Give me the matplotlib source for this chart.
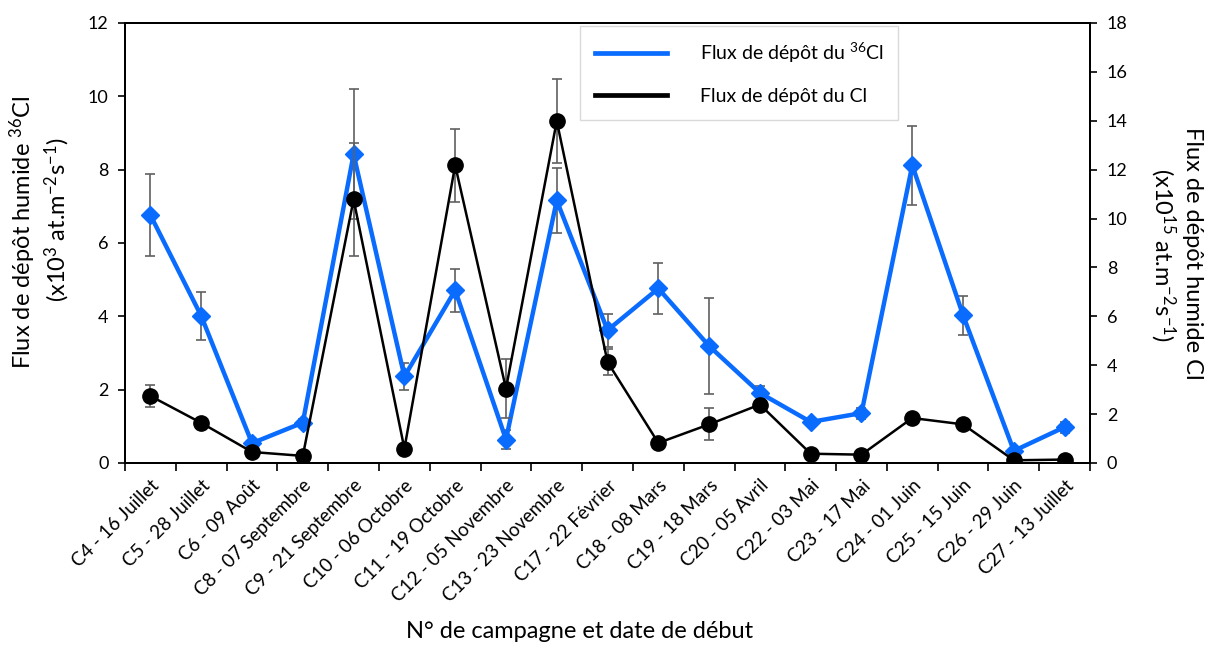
import matplotlib.pyplot as plt
from matplotlib.lines import Line2D

plt.rcParams['font.family'] = ['Lato', 'DejaVu Sans']
plt.rcParams['mathtext.default'] = 'regular'

campagnes = ["C4 - 16 Juillet", "C5 - 28 Juillet", "C6 - 09 Août", "C8 - 07 Septembre",
             "C9 - 21 Septembre", "C10 - 06 Octobre", "C11 - 19 Octobre", "C12 - 05 Novembre",
             "C13 - 23 Novembre", "C17 - 22 Février", "C18 - 08 Mars", "C19 - 18 Mars",
             "C20 - 05 Avril", "C22 - 03 Mai", "C23 - 17 Mai", "C24 - 01 Juin",
             "C25 - 15 Juin", "C26 - 29 Juin", "C27 - 13 Juillet"]

# flux 36Cl (x10^3 at.m-2.s-1), axe de gauche
flux_36cl = [6.76, 4.01, 0.54, 1.10, 8.42, 2.36, 4.71, 0.64, 7.16, 3.62,
             4.76, 3.19, 1.91, 1.12, 1.36, 8.12, 4.03, 0.33, 0.98]
err_36cl = [1.12, 0.65, 0.08, 0.10, 1.77, 0.38, 0.58, 0.25, 0.89, 0.45,
            0.69, 1.30, 0.20, 0.08, 0.15, 1.08, 0.53, 0.05, 0.15]

# flux Cl (x10^15 at.m-2.s-1), axe de droite
flux_cl = [2.74, 1.64, 0.45, 0.29, 10.78, 0.59, 12.18, 3.04, 13.99, 4.13,
           0.82, 1.58, 2.39, 0.38, 0.34, 1.84, 1.58, 0.11, 0.14]
err_cl = [0.45, 0.15, 0.05, 0.05, 2.30, 0.10, 1.50, 1.20, 1.72, 0.52,
          0.10, 0.65, 0.20, 0.05, 0.05, 0.15, 0.15, 0.03, 0.03]

bleu = '#0A6CFF'
gris = '#606060'

x = list(range(len(campagnes)))

fig = plt.figure(figsize=(12.07, 6.46), dpi=100)
ax = fig.add_axes([0.1036, 0.2833, 0.7995, 0.6811])
ax2 = ax.twinx()

ax.errorbar(x, flux_36cl, yerr=err_36cl, fmt='none', ecolor=gris, elinewidth=1.2,
            capsize=3.5, capthick=1.2, zorder=2)
ax.plot(x, flux_36cl, color=bleu, lw=3.2, marker='D', ms=9, zorder=3)

ax2.errorbar(x, flux_cl, yerr=err_cl, fmt='none', ecolor=gris, elinewidth=1.2,
             capsize=3.5, capthick=1.2, zorder=2)
ax2.plot(x, flux_cl, color='black', lw=1.8, marker='o', ms=11, zorder=3)

ax.set_xlim(-0.5, len(campagnes) - 0.5)
ax.set_ylim(0, 12)
ax2.set_ylim(0, 18)
ax.set_yticks(range(0, 13, 2))
ax2.set_yticks(range(0, 19, 2))

ax.set_xticks(x)
ax.set_xticklabels(campagnes, rotation=45, ha='right', rotation_mode='anchor', fontsize=13.5)
ax.set_xticks([i - 0.5 for i in range(len(campagnes) + 1)], minor=True)
ax.tick_params(axis='x', which='major', length=0, pad=10)
ax.tick_params(axis='x', which='minor', length=6, width=1.2)
ax.tick_params(axis='y', labelsize=13, length=5, width=1.2, pad=7)
ax2.tick_params(axis='y', labelsize=13, length=5, width=1.2, pad=7)

for a in (ax, ax2):
    for s in a.spines.values():
        s.set_linewidth(1.4)

# titres des axes y, placés ligne par ligne
fig.text(23 / 1207, 1 - 232 / 646, "Flux de dépôt humide $^{36}$Cl", rotation=90,
         ha='center', va='center', fontsize=17)
fig.text(57 / 1207, 1 - 220 / 646, "(x10$^{3}$ at.m$^{-2}$s$^{-1}$)", rotation=90,
         ha='center', va='center', fontsize=17)
fig.text(1193 / 1207, 1 - 253 / 646, "Flux de dépôt humide Cl", rotation=-90,
         ha='center', va='center', fontsize=17)
fig.text(1163 / 1207, 1 - 255 / 646, "(x10$^{15}$ at.m$^{-2}$s$^{-1}$)", rotation=-90,
         ha='center', va='center', fontsize=17)
fig.text(580 / 1207, 1 - 632 / 646, "N° de campagne et date de début",
         ha='center', va='center', fontsize=17)

handles = [Line2D([], [], color=bleu, lw=3.4), Line2D([], [], color='black', lw=3.4)]
labels = ["Flux de dépôt du $^{36}$Cl", "Flux de dépôt du Cl"]
leg = ax2.legend(handles, labels, loc='upper left', bbox_to_anchor=(0.4715, 0.993),
                 borderaxespad=0, fontsize=14, handlelength=3.7, handletextpad=1.7,
                 labelspacing=1.2, borderpad=0.75, fancybox=False, framealpha=1,
                 edgecolor='#d9d9d9')
leg.get_frame().set_linewidth(1.0)

fig.savefig('out.png', dpi=100)
